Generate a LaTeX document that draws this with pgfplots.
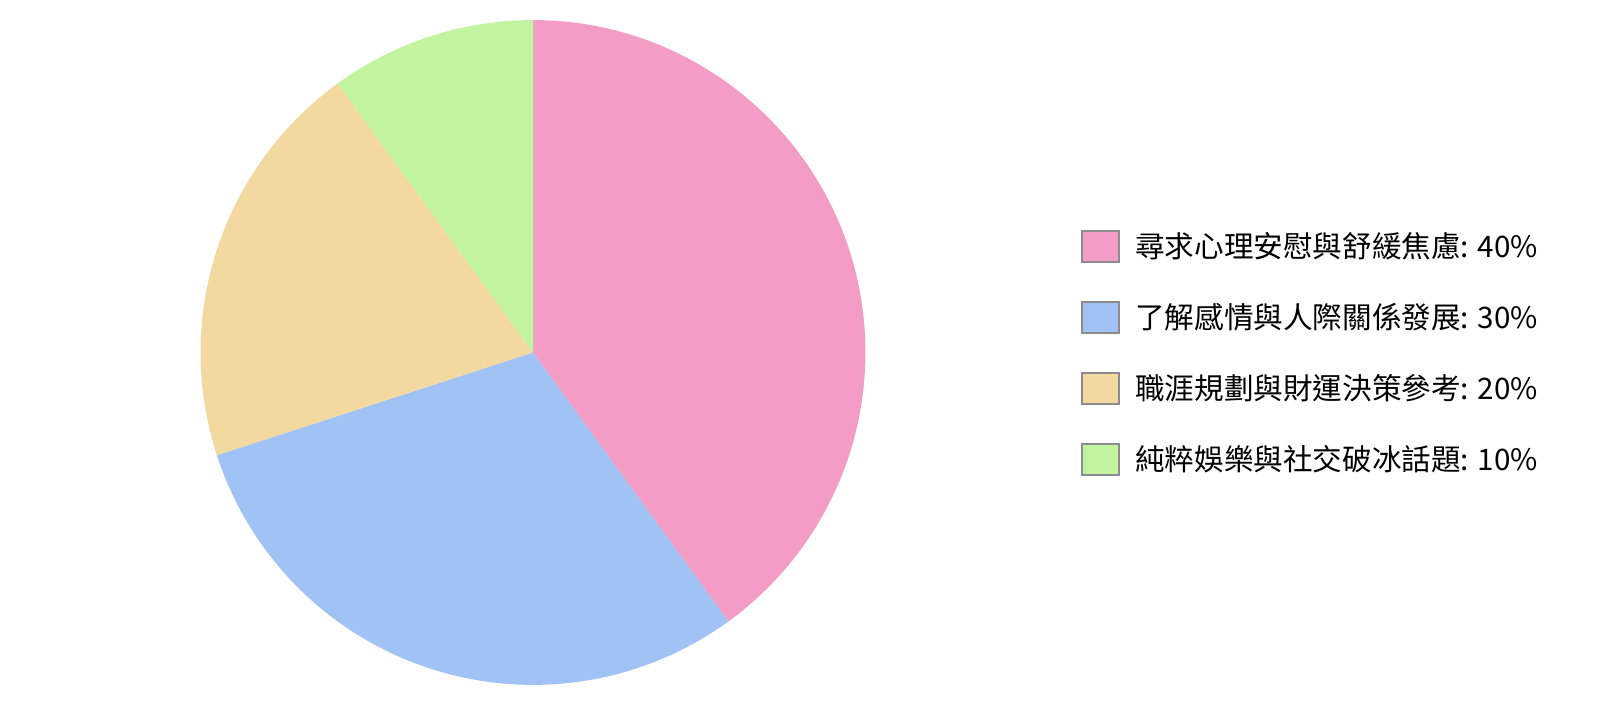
\documentclass[border=0pt]{standalone}
\usepackage{fontspec}
\setmainfont{Noto Sans CJK TC}
\usepackage{pgfplots}
\usepackage{pgfplotstable}
\pgfplotsset{compat=1.18}

\definecolor{piepink}{RGB}{242,156,198}
\definecolor{pieblue}{RGB}{160,194,244}
\definecolor{pieyellow}{RGB}{243,217,160}
\definecolor{piegreen}{RGB}{194,244,160}
\definecolor{boxedge}{RGB}{140,140,140}

% share of each slice, clockwise from 12 o'clock
\pgfplotstableread{
value color
40 piepink
30 pieblue
20 pieyellow
10 piegreen
}\piedata

\newcommand{\legbox}[1]{\addlegendimage{legend image code/.code={%
  \draw[fill=#1,draw=boxedge,line width=0.9pt] (0pt,-7.75pt) rectangle (18.5pt,7.75pt);}}}

\begin{document}
\begin{tikzpicture}
\begin{axis}[
  width=800pt, height=352.5pt, scale only axis,
  xmin=0, xmax=1600, ymin=0, ymax=705,
  hide axis, clip=false,
  legend style={draw=none, fill=none, inner sep=0pt,
    at={(axis cs:1081,352)}, anchor=west,
    font=\fontsize{14.8}{17}\selectfont,
    row sep=19.2pt,
    nodes={inner sep=0pt},
    /tikz/every odd column/.style={column sep=7.5pt}},
  legend cell align=left,
]
\pgfplotsextra{
  % keep the whole axis area as the page
  \path (rel axis cs:0,0) rectangle (rel axis cs:1,1);
  \xdef\cum{0}
  \pgfplotstableforeachcolumnelement{value}\of\piedata\as\val{%
    \pgfmathsetmacro\aStart{90-3.6*\cum}%
    \pgfmathsetmacro\aEnd{90-3.6*(\cum+\val)}%
    \pgfplotstablegetelem{\pgfplotstablerow}{color}\of\piedata
    \edef\col{\pgfplotsretval}%
    \fill[fill=\col] (axis cs:533,352.5) -- ++(\aStart:166.2pt)
      arc[start angle=\aStart, end angle=\aEnd, radius=166.2pt] -- cycle;
    \pgfmathsetmacro\tmp{\cum+\val}%
    \xdef\cum{\tmp}%
  }
}
\legbox{piepink}
\addlegendentry{尋求心理安慰與舒緩焦慮: 40\%}
\legbox{pieblue}
\addlegendentry{了解感情與人際關係發展: 30\%}
\legbox{pieyellow}
\addlegendentry{職涯規劃與財運決策參考: 20\%}
\legbox{piegreen}
\addlegendentry{純粹娛樂與社交破冰話題: 10\%}
\end{axis}
\end{tikzpicture}
\end{document}
